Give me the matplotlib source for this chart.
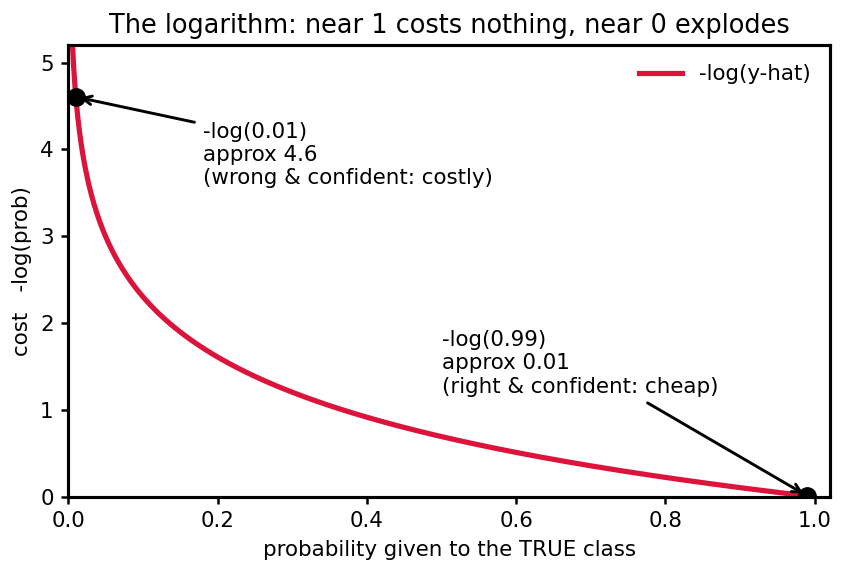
import numpy as np
import matplotlib
matplotlib.use('Agg')
import matplotlib.pyplot as plt

# probability given to the true class and the two annotated points
p_lo, p_hi = 0.005, 0.99
marked_p = [0.01, 0.99]
notes = ["-log(0.01)\napprox 4.6\n(wrong & confident: costly)",
         "-log(0.99)\napprox 0.01\n(right & confident: cheap)"]
note_xy = [(0.18, 3.6), (0.50, 1.2)]

p = np.linspace(p_lo, p_hi, 500)
cost = -np.log(p)

fig, ax = plt.subplots(figsize=(844 / 150, 573 / 150), dpi=150)
ax.plot(p, cost, color='crimson', lw=2.5, label='-log(y-hat)')

for mp, txt, xy in zip(marked_p, notes, note_xy):
    ax.plot(mp, -np.log(mp), 'o', color='black', ms=8, zorder=5)
    ax.annotate(txt, xy=(mp, -np.log(mp)), xytext=xy, fontsize=10.25,
                arrowprops=dict(arrowstyle='->', color='black', lw=1.4))

ax.set_xlim(0, 1.02)
ax.set_ylim(0, 5.2)
ax.set_xticks([0.0, 0.2, 0.4, 0.6, 0.8, 1.0])
ax.set_yticks([0, 1, 2, 3, 4, 5])
ax.tick_params(labelsize=10.25, width=1.2)
for s in ax.spines.values():
    s.set_linewidth(1.5)

ax.set_xlabel('probability given to the TRUE class', fontsize=10.25)
ax.set_ylabel('cost   -log(prob)', fontsize=10.25)
ax.set_title('The logarithm: near 1 costs nothing, near 0 explodes', fontsize=12.3)
ax.legend(loc='upper right', frameon=False, fontsize=10.25)

fig.subplots_adjust(left=0.081, right=0.983, top=0.921, bottom=0.133)
plt.savefig('out.png', dpi=150)
